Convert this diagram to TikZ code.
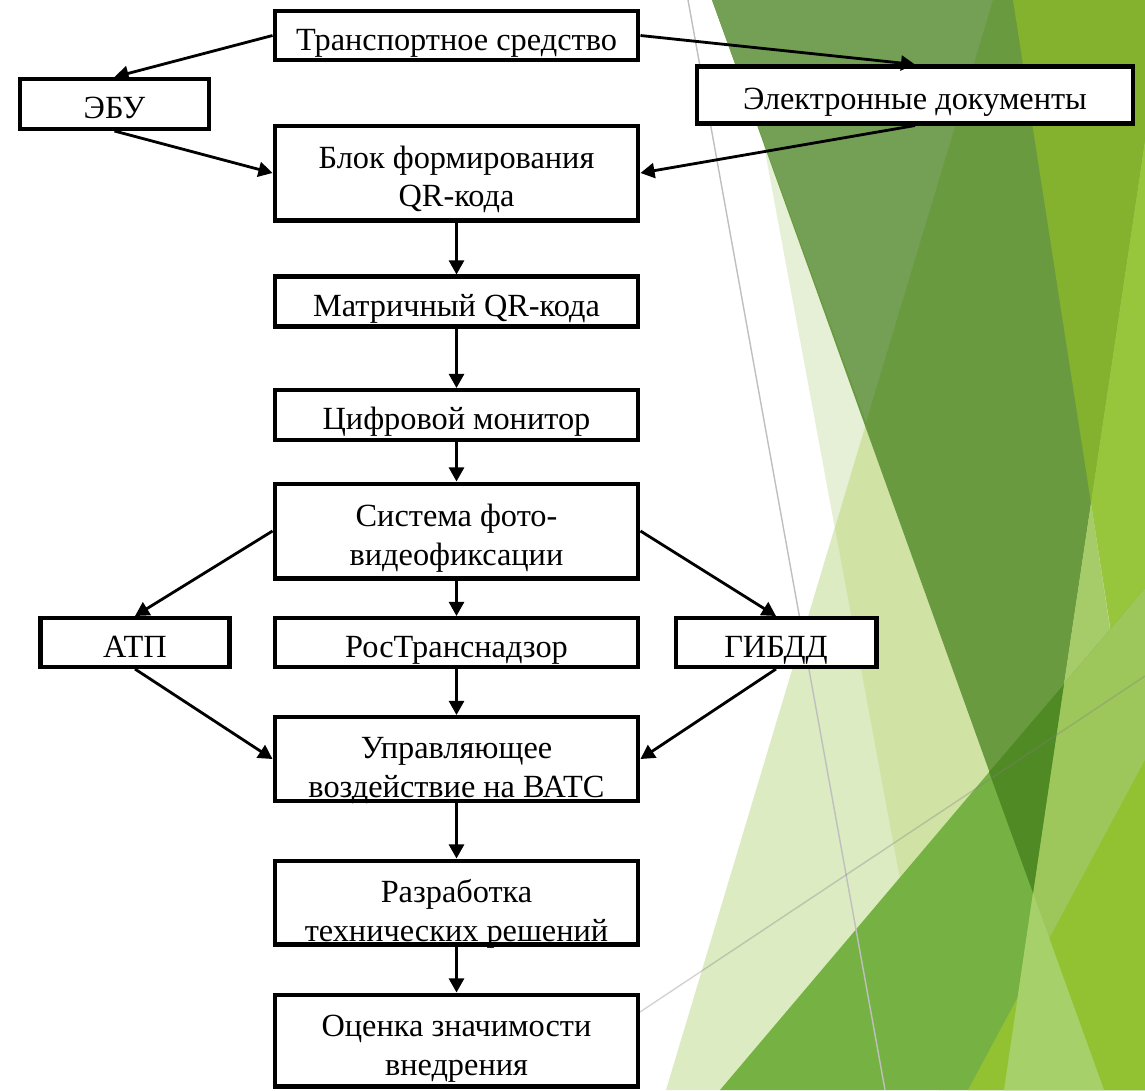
\documentclass[tikz,border=0pt]{standalone}
\usepackage{fontspec}
\setmainfont{Liberation Serif}
\usetikzlibrary{arrows.meta}

\definecolor{blednyA}{HTML}{E6F0D6}
\definecolor{blednyB}{HTML}{DCEBC1}
\definecolor{blednyC}{HTML}{D0E3A5}
\definecolor{temny}{HTML}{6A9A3F}
\definecolor{temnyL}{HTML}{73A055}
\definecolor{oliva}{HTML}{84B22E}
\definecolor{yarky}{HTML}{97C53C}
\definecolor{svetly}{HTML}{A6CC6A}
\definecolor{sredny}{HTML}{76B243}
\definecolor{srednyL}{HTML}{9DC75A}
\definecolor{glubokiy}{HTML}{4F8A25}
\definecolor{salat}{HTML}{92C231}
\definecolor{polosa}{HTML}{A6D06A}

\newcommand{\sdvig}[1]{\rule{0pt}{#1}}

\begin{document}
\begin{tikzpicture}[x=0.02cm, y=-0.02cm,
    blok/.style={draw, line width=2.3pt, fill=white, align=center, inner sep=1pt,
        minimum width=7.28cm, font=\fontsize{18.4pt}{22.1pt}\selectfont},
    odna/.style={text height=17pt, text depth=0pt},
    strelka/.style={-{Triangle[length=8pt, width=8.5pt]}, line width=1.6pt}]
    \useasboundingbox (0,0) rectangle (1145,1090);

    % Фон
    \begin{scope}
        \clip (0,0) rectangle (1145,1090);
        \fill[blednyA] (737,0) -- (1145,0) -- (1145,1090) -- (939,1090) -- cycle;
        \fill[blednyB] (993,0) -- (1145,0) -- (1145,1090) -- (666,1090) -- cycle;
        \fill[blednyC] (993,0) -- (1145,0) -- (1145,1090) -- (939,1090) -- (835,528) -- cycle;
        \fill[temny] (712,0) -- (1166,0) -- (1033,893) -- cycle;
        \fill[temnyL] (712,0) -- (993,0) -- (866,422) -- cycle;
        \fill[oliva] (1013,0) -- (1145,0) -- (1145,141) -- (1091,503) -- cycle;
        \fill[yarky] (1145,141) -- (1091,503) -- (1145,852) -- cycle;
        \fill[svetly] (1091,503) -- (1110,629) -- (1064,684) -- cycle;
        \fill[sredny] (720,1090) -- (1145,588) -- (1145,1090) -- cycle;
        \fill[srednyL] (1064,684) -- (1145,588) -- (1145,1090) -- (1004,1090) -- cycle;
        \fill[glubokiy] (989,772) -- (1064,684) -- (1033,893) -- cycle;
        \fill[salat] (968,1090) -- (1145,760) -- (1145,1090) -- cycle;
        \fill[polosa] (1033,893) -- (1004,1090) -- (1104,1090) -- cycle;
        \draw[gray!50, line width=0.8pt] (688,0) -- (885,1090);
        \draw[gray, opacity=0.35, line width=0.8pt] (640,1012) -- (1145,676);
    \end{scope}

    % Блоки
    \node[blok, odna, minimum height=0.98cm] (trans) at (456.5,35.5) {Транспортное средство};
    \node[blok, odna, minimum width=3.78cm, minimum height=1cm] (ebu) at (114.5,104) {ЭБУ};
    \node[blok, odna, minimum width=8.74cm, minimum height=1.14cm] (edoc) at (915,95) {Электронные документы};
    \node[blok, minimum height=1.9cm] (qrblok) at (456.5,173) {\sdvig{16.5pt}Блок формирования\\\smash{QR-кода}};
    \node[blok, odna, minimum height=1cm] (qrmatr) at (456.5,301.5) {Матричный QR-кода};
    \node[blok, odna, minimum height=1cm] (monitor) at (456.5,415) {Цифровой монитор};
    \node[blok, minimum height=1.9cm] (foto) at (456.5,531) {\sdvig{17pt}Система фото-\\\smash{видеофиксации}};
    \node[blok, odna, minimum width=3.78cm, minimum height=0.98cm] (atp) at (135,642.5) {АТП};
    \node[blok, odna, minimum height=0.98cm] (rtn) at (456.5,642.5) {РосТранснадзор};
    \node[blok, odna, minimum width=4.02cm, minimum height=0.98cm] (gibdd) at (776,642.5) {ГИБДД};
    \node[blok, minimum height=1.68cm] (upr) at (456.5,759) {\sdvig{21.5pt}Управляющее\\\smash{воздействие на ВАТС}};
    \node[blok, minimum height=1.68cm] (razr) at (456.5,902.5) {\sdvig{22pt}Разработка\\\smash{технических решений}};
    \node[blok, minimum height=1.84cm] (ocen) at (456.5,1040.5) {\sdvig{17.5pt}Оценка значимости\\\smash{внедрения}};

    % Стрелки
    \draw[strelka] (trans.west) -- (ebu.north);
    \draw[strelka] (trans.east) -- (edoc.north);
    \draw[strelka] (ebu.south) -- (qrblok.west);
    \draw[strelka] (edoc.south) -- (qrblok.east);
    \draw[strelka] (qrblok) -- (qrmatr);
    \draw[strelka] (qrmatr) -- (monitor);
    \draw[strelka] (monitor) -- (foto);
    \draw[strelka] (foto.west) -- (atp.north);
    \draw[strelka] (foto) -- (rtn);
    \draw[strelka] (foto.east) -- (gibdd.north);
    \draw[strelka] (atp.south) -- (upr.west);
    \draw[strelka] (rtn) -- (upr);
    \draw[strelka] (gibdd.south) -- (upr.east);
    \draw[strelka] (upr) -- (razr);
    \draw[strelka] (razr) -- (ocen);

\end{tikzpicture}
\end{document}
